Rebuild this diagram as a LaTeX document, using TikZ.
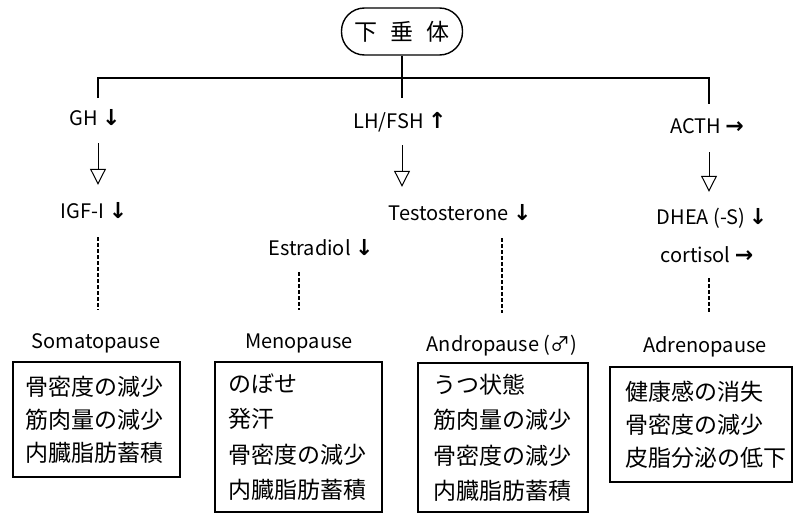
\documentclass[tikz,border=0pt]{standalone}
\usepackage{fontspec}
\setmainfont{Noto Sans CJK JP}
\newfontfamily\arrfont{DejaVu Sans Bold}
\usetikzlibrary{arrows.meta}
\newcommand\dnar{{\arrfont\fontsize{22}{22}\selectfont ↓}}
\newcommand\upar{{\arrfont\fontsize{22}{22}\selectfont ↑}}
\newcommand\rtar{{\arrfont\fontsize{22}{22}\selectfont →}}
\begin{document}
\begin{tikzpicture}[x=1pt,y=-1pt,
  lab/.style={inner sep=0pt, text height=14pt, text depth=4pt, font=\fontsize{20}{24}\selectfont},
  symbox/.style={draw, line width=1.1pt, align=left, inner xsep=0pt, inner ysep=0pt,
     font=\fontsize{23}{33}\selectfont},
  mainline/.style={line width=1.8pt},
  hollow/.style={line width=1pt, -{Triangle[open, length=16pt, width=16pt, line width=1pt]}},
  dashline/.style={line width=1.2pt, dash pattern=on 3.5pt off 2.5pt}
]
\useasboundingbox (0,0) rectangle (793,514);

% top node
\node[draw, line width=1.4pt, rounded corners=23pt, minimum width=121pt, minimum height=47pt,
      inner sep=0pt, font=\fontsize{23}{23}\selectfont] (pit) at (402,31.5)
      {下\hspace{13pt}垂\hspace{13pt}体};

% junctions
\coordinate (j1) at (98,78);
\coordinate (j3) at (709,78);
\coordinate (t1) at (98,98);
\coordinate (t2) at (402,98);
\coordinate (t3) at (709,104);

% first level
\node[lab] (gh) at (95,120) {GH \dnar};
\node[lab] (lh) at (400,123) {LH/FSH \upar};
\node[lab] (acth) at (707,128) {ACTH \rtar};

% second level
\node[lab] (igf) at (94,213) {IGF-I \dnar};
\node[lab] (testo) at (460,215) {Testosterone \dnar};
\node[lab] (estr) at (321,250) {Estradiol \dnar};
\node[lab] (dhea) at (712,219) {DHEA (-S)\,\dnar};
\node[lab] (cort) at (707,257) {cortisol \rtar};

% pause labels
\node[lab] (soma) at (96,343) {Somatopause};
\node[lab] (meno) at (299,343) {Menopause};
\node[lab] (andro) at (502,346) {Andropause (♂)};
\node[lab] (adreno) at (705,347) {Adrenopause};

% boxes
\node[symbox, minimum width=167pt, minimum height=115pt, text width=143pt] (b1) at (96.5,419.5)
  {骨密度の減少\\筋肉量の減少\\内臓脂肪蓄積};
\node[symbox, minimum width=167pt, minimum height=150pt, text width=141pt,
      font=\fontsize{23}{35.5}\selectfont] (b2) at (298.5,437)
  {のぼせ\\発汗\\骨密度の減少\\内臓脂肪蓄積};
\node[symbox, minimum width=170pt, minimum height=149pt, text width=140pt,
      font=\fontsize{23}{35.5}\selectfont] (b3) at (503,437.5)
  {うつ状態\\筋肉量の減少\\骨密度の減少\\内臓脂肪蓄積};
\node[symbox, minimum width=182pt, minimum height=115pt, text width=152pt] (b4) at (701,424.5)
  {健康感の消失\\骨密度の減少\\皮脂分泌の低下};

% tree lines
\draw[mainline] (pit.south) -- (t2);
\draw[mainline] (t1) -- (j1) -- (j3) -- (t3);

% hollow arrows
\draw[hollow, shorten <=14pt, shorten >=19pt] (gh.south -| t1) -- (igf.north -| t1);
\draw[hollow, shorten <=13pt, shorten >=19pt] (lh.south -| t2) -- (testo.north -| t2);
\draw[hollow, shorten <=15pt, shorten >=18pt] (acth.south -| t3) -- (dhea.north -| t3);

% dashed
\draw[dashline, shorten <=15pt, shorten >=24pt] (igf.south -| t1) -- (soma.north -| t1);
\draw[dashline, shorten <=13pt, shorten >=24pt] (estr.south -| meno) -- (meno.north);
\draw[dashline, shorten <=14pt, shorten >=24pt] (testo.south -| andro) -- (andro.north);
\draw[dashline, shorten <=12pt, shorten >=25pt] (cort.south -| t3) -- (adreno.north -| t3);
\end{tikzpicture}
\end{document}
